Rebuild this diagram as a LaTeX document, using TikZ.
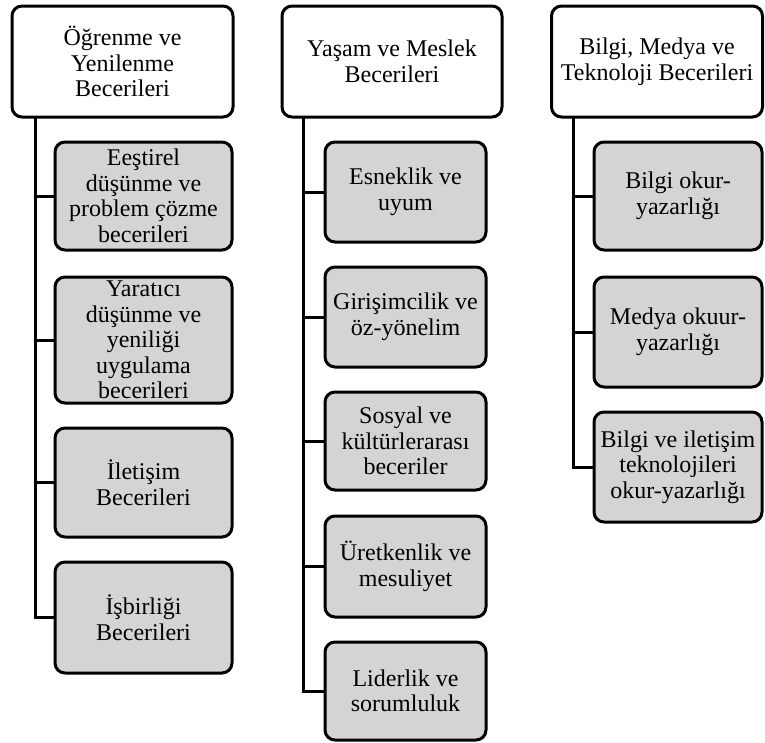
\documentclass[tikz,border=0pt]{standalone}
\usepackage{fontspec}
\setmainfont{Liberation Serif}
\begin{document}
\begin{tikzpicture}[x=1pt,y=-1pt,
  every node/.style={font=\fontsize{24}{25.5}\selectfont, align=center, inner sep=0pt},
  box/.style={draw=black, line width=3pt, rounded corners=10pt, rectangle},
  head/.style={box, fill=white},
  item/.style={box, fill=black!17},
  link/.style={draw=black, line width=3pt}]
\useasboundingbox (0,0) rectangle (765,742);

% column headers
\node[head, minimum width=221pt, minimum height=111pt] (h1) at (122.5,61.5) {Öğrenme ve\\Yenilenme\\Becerileri};
\node[head, minimum width=220pt, minimum height=111pt] (h2) at (392,61.5) {Yaşam ve Meslek\\Becerileri};
\node[head, minimum width=211pt, minimum height=111pt] (h3) at (657,61.5) {Bilgi, Medya ve\\Teknoloji Becerileri};

% first column
\node[item, minimum width=177pt, minimum height=108pt] (a1) at (143.5,196) {Eeştirel\\düşünme ve\\problem çözme\\becerileri};
\node[item, minimum width=177pt, minimum height=126pt] (a2) at (143.5,340) {Yaratıcı\\düşünme ve\\yeniliği\\uygulama\\becerileri};
\node[item, minimum width=177pt, minimum height=109pt] (a3) at (143.5,482.5) {İletişim\\Becerileri};
\node[item, minimum width=177pt, minimum height=111pt] (a4) at (143.5,617.5) {İşbirliği\\Becerileri};

% second column
\node[item, minimum width=161pt, minimum height=100pt] (b1) at (405.5,192) {Esneklik ve\\uyum};
\node[item, minimum width=161pt, minimum height=100pt] (b2) at (405.5,317) {Girişimcilik ve\\öz-yönelim};
\node[item, minimum width=161pt, minimum height=98pt] (b3) at (405.5,441) {Sosyal ve\\kültürlerarası\\beceriler};
\node[item, minimum width=161pt, minimum height=101pt] (b4) at (405.5,566.5) {Üretkenlik ve\\mesuliyet};
\node[item, minimum width=161pt, minimum height=98pt] (b5) at (405.5,691) {Liderlik ve\\sorumluluk};

% third column
\node[item, minimum width=168pt, minimum height=108pt] (c1) at (678,196) {Bilgi okur-\\yazarlığı};
\node[item, minimum width=168pt, minimum height=110pt] (c2) at (678,332) {Medya okuur-\\yazarlığı};
\node[item, minimum width=168pt, minimum height=110pt] (c3) at (678,467) {Bilgi ve iletişim\\teknolojileri\\okur-yazarlığı};

% spines under each header
\coordinate (s1) at (35,117);
\coordinate (s2) at (303,117);
\coordinate (s3) at (573,117);

\draw[link] (s1) |- (a4.west);
\foreach \n in {a1,a2,a3} \draw[link] (s1 |- \n.west) -- (\n.west);
\draw[link] (s2) |- (b5.west);
\foreach \n in {b1,b2,b3,b4} \draw[link] (s2 |- \n.west) -- (\n.west);
\draw[link] (s3) |- (c3.west);
\foreach \n in {c1,c2} \draw[link] (s3 |- \n.west) -- (\n.west);
\end{tikzpicture}
\end{document}
